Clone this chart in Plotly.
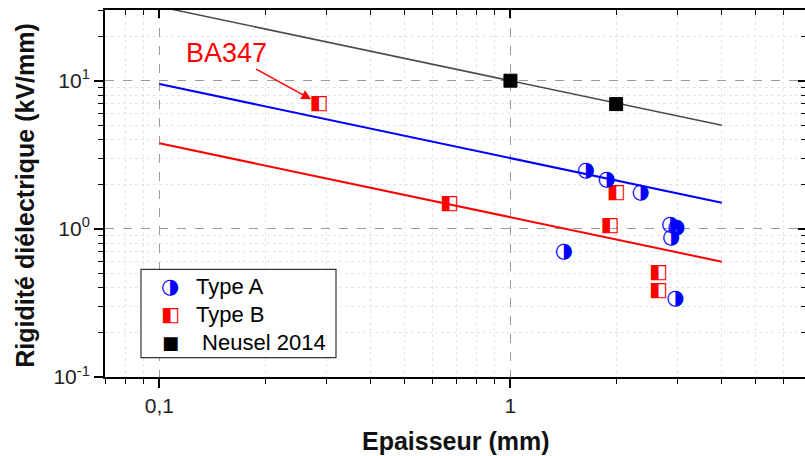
import math
import plotly.graph_objects as go

# ---------------- data ----------------
typeA_x = [1.64, 1.88, 2.35, 1.42, 2.85, 2.97, 2.87, 2.95]
typeA_y = [2.46, 2.13, 1.74, 0.70, 1.06, 1.01, 0.87, 0.34]

typeB_x = [0.285, 0.67, 1.92, 2.0, 2.64, 2.64]
typeB_y = [7.0, 1.47, 1.04, 1.75, 0.50, 0.38]

neusel_x = [1.0, 2.0]
neusel_y = [10.0, 6.95]

fit_x = [0.1, 4.0]
fit_neusel_y = [31.6, 5.0]
fit_A_y = [9.5, 1.5]
fit_B_y = [3.78, 0.60]

x_tickvals = [0.1, 1]
x_ticktext = ["0,1", "1"]
x_minor = [0.07, 0.08, 0.09, 0.2, 0.3, 0.4, 0.5, 0.6, 0.7, 0.8, 0.9, 2, 3, 4, 5, 6, 7]
y_tickvals = [0.1, 1, 10]
y_ticktext = ["10<sup>-1</sup>", "10<sup>0</sup>", "10<sup>1</sup>"]
y_minor = [0.2, 0.3, 0.4, 0.5, 0.6, 0.7, 0.8, 0.9, 2, 3, 4, 5, 6, 7, 8, 9, 20, 30]

legend_labels = ["Type A", "Type B", " Neusel 2014"]
legend_glyphs = ["\u25D1", "\u25E7", "\u25A0"]
legend_colors = ["#0000ff", "#ff0000", "#000000"]

FONT = "Arial, 'Liberation Sans', sans-serif"
GLYPH_FONT = "DejaVu Sans"

fig = go.Figure()

# fit lines
fig.add_trace(go.Scatter(x=fit_x, y=fit_neusel_y, mode="lines",
                         line=dict(color="#4a4a4a", width=1.5), showlegend=False, hoverinfo="skip"))
fig.add_trace(go.Scatter(x=fit_x, y=fit_A_y, mode="lines",
                         line=dict(color="#0000ff", width=2), showlegend=False, hoverinfo="skip"))
fig.add_trace(go.Scatter(x=fit_x, y=fit_B_y, mode="lines",
                         line=dict(color="#ff0000", width=2), showlegend=False, hoverinfo="skip"))

# data points
fig.add_trace(go.Scatter(x=neusel_x, y=neusel_y, mode="markers", name="Neusel 2014",
                         marker=dict(symbol="square", size=13, color="#000000",
                                     line=dict(color="#000000", width=1)),
                         showlegend=False))
fig.add_trace(go.Scatter(x=typeB_x, y=typeB_y, mode="text", name="Type B",
                         text=["\u25E7"] * len(typeB_x), textposition="middle center",
                         textfont=dict(family=GLYPH_FONT, size=20, color="#ff0000"),
                         showlegend=False))
fig.add_trace(go.Scatter(x=typeA_x, y=typeA_y, mode="text", name="Type A",
                         text=["\u25D1"] * len(typeA_x), textposition="middle center",
                         textfont=dict(family=GLYPH_FONT, size=21, color="#0000ff"),
                         showlegend=False))

# dummy trace for mirrored inner ticks (top / right)
fig.add_trace(go.Scatter(x=[], y=[], xaxis="x2", yaxis="y2", showlegend=False, hoverinfo="skip"))

xr = [math.log10(0.07), 0.839]
yr = [-1, math.log10(30)]

fig.update_layout(
    width=805, height=456,
    margin=dict(l=105, r=0, t=10, b=79),
    paper_bgcolor="white", plot_bgcolor="white",
    showlegend=False,
    font=dict(family=FONT, color="#222222"),
    xaxis=dict(
        type="log", range=xr, tickvals=x_tickvals, ticktext=x_ticktext,
        ticks="outside", ticklen=9, tickwidth=1.5, tickcolor="#000",
        showline=True, linecolor="#000", linewidth=2, mirror=True,
        showgrid=True, gridcolor="#9a9a9a", gridwidth=1, griddash="dash",
        tickfont=dict(size=21, family=FONT, color="#222"),
        zeroline=False,
        minor=dict(tickvals=x_minor, ticks="outside", ticklen=5, tickwidth=1.2, tickcolor="#000",
                   showgrid=True, gridcolor="#e4e4e4", gridwidth=1, griddash="dot"),
    ),
    yaxis=dict(
        type="log", range=yr, tickvals=y_tickvals, ticktext=y_ticktext,
        ticks="outside", ticklen=9, tickwidth=1.5, tickcolor="#000",
        showline=True, linecolor="#000", linewidth=2,
        showgrid=True, gridcolor="#9a9a9a", gridwidth=1, griddash="dash",
        tickfont=dict(size=21, family=FONT, color="#222"),
        zeroline=False,
        minor=dict(tickvals=y_minor, ticks="outside", ticklen=5, tickwidth=1.2, tickcolor="#000",
                   showgrid=True, gridcolor="#e4e4e4", gridwidth=1, griddash="dot"),
    ),
    xaxis2=dict(
        type="log", range=xr, overlaying="x", side="top", anchor="y",
        tickvals=x_tickvals, ticks="inside", ticklen=8, tickwidth=1.5, tickcolor="#000",
        showticklabels=False, showgrid=False, showline=False, zeroline=False,
        minor=dict(tickvals=x_minor, ticks="inside", ticklen=5, tickwidth=1.2, tickcolor="#000",
                   showgrid=False),
    ),
    yaxis2=dict(
        type="log", range=yr, overlaying="y", side="right", anchor="x",
        tickvals=y_tickvals, ticks="inside", ticklen=7, tickwidth=1.5, tickcolor="#000",
        showticklabels=False, showgrid=False, showline=False, zeroline=False,
        minor=dict(tickvals=y_minor, ticks="inside", ticklen=4, tickwidth=1.2, tickcolor="#000",
                   showgrid=False),
    ),
)

# axis titles
fig.add_annotation(text="<b>Epaisseur (mm)</b>", xref="paper", yref="paper",
                   x=0.501, y=-0.174, xanchor="center", yanchor="middle", showarrow=False,
                   font=dict(family=FONT, size=25, color="#111"))
fig.add_annotation(text="<b>Rigidité diélectrique (kV/mm)</b>", xref="paper", yref="paper",
                   x=-0.114, y=0.4946, xanchor="center", yanchor="middle", showarrow=False,
                   textangle=-90, font=dict(family=FONT, size=25, color="#111"))

# BA347 annotation with arrow
fig.add_annotation(text="BA347", x=math.log10(typeB_x[0]), y=math.log10(typeB_y[0]),
                   xref="x", yref="y", showarrow=True, ax=-93, ay=-51,
                   arrowhead=2, arrowsize=1.3, arrowwidth=1.5, arrowcolor="#ff0000",
                   standoff=9, font=dict(family=FONT, size=27, color="#ff0000"))

# legend box (manual)
fig.add_shape(type="rect", xref="paper", yref="paper",
              x0=0.0514, x1=0.33, y0=0.0526, y1=0.2935,
              line=dict(color="#333", width=1.2), fillcolor="white", layer="above")
leg_y_px = [286, 314, 342.5]
glyph_sizes = [21, 20, 18]
for lab, gl, col, ypx, gs in zip(legend_labels, legend_glyphs, legend_colors, leg_y_px, glyph_sizes):
    yp = (377 - ypx) / 367
    fig.add_annotation(text=gl, xref="paper", yref="paper", x=(170 - 105) / 700, y=yp,
                       xanchor="center", yanchor="middle", showarrow=False,
                       font=dict(family=GLYPH_FONT, size=gs, color=col))
    fig.add_annotation(text=lab.replace(" ", "&nbsp;", 1) if lab.startswith(" ") else lab,
                       xref="paper", yref="paper", x=(194 - 105) / 700, y=yp,
                       xanchor="left", yanchor="middle", showarrow=False,
                       font=dict(family=FONT, size=22, color="#000"))

fig.write_html("out.html", config={"displayModeBar": False},
               post_script="document.body.style.margin='0px';document.body.style.padding='0px';")
